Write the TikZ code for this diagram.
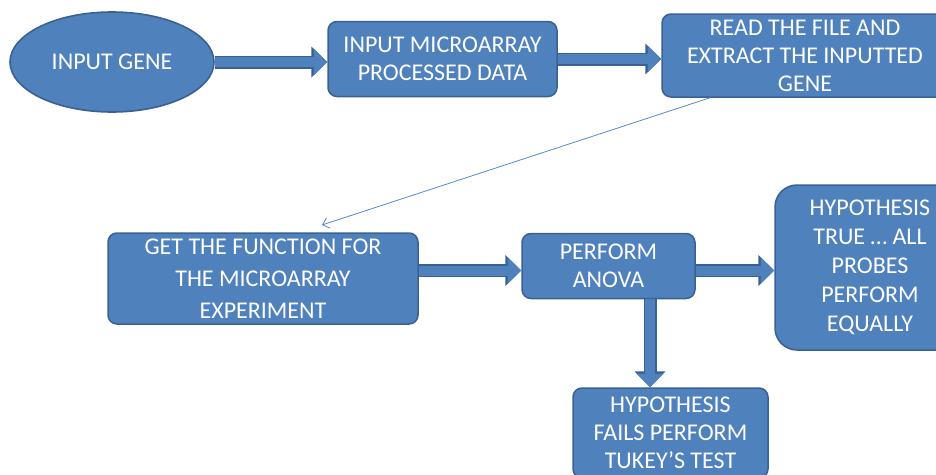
\documentclass[tikz,border=0pt]{standalone}
\usepackage{fontspec}
\setmainfont{Carlito}
\usetikzlibrary{shapes.geometric,arrows.meta}

\definecolor{boxfill}{HTML}{4F81BD}
\definecolor{boxedge}{HTML}{3A6193}
\definecolor{thinline}{HTML}{5A88C2}

\tikzset{
  stepbox/.style={draw=boxedge, fill=boxfill, line width=1.5pt, rounded corners=9pt,
    text=white, align=center, inner sep=0pt,
    font=\fontsize{24}{28}\selectfont},
  oval/.style={ellipse, draw=boxedge, fill=boxfill, line width=1.6pt, text=white,
    inner sep=0pt, font=\fontsize{24}{28}\selectfont},
  thinarrow/.style={draw=thinline, line width=0.8pt, -{Straight Barb[length=6pt,width=11pt]}}
}

% thick block arrow with a darker outline
\newcommand\fatarrow[2]{%
  \draw[boxedge, line width=13pt, -{Triangle[width=30pt,length=16pt]}] #1 -- #2;
  \draw[boxfill, line width=10pt, -{Triangle[width=26pt,length=13.5pt]}] #1 -- #2;
}

\begin{document}
\begin{tikzpicture}[x=1pt, y=-1pt]
  \useasboundingbox (0,0) rectangle (936,474);
  \clip (0,0) rectangle (936,474);
  \fill[white] (0,0) rectangle (936,474);

  % top row
  \node[oval, minimum width=204pt, minimum height=100pt] (gene) at (112,62) {INPUT GENE};
  \node[stepbox, minimum width=229pt, minimum height=75pt] (proc) at (442.5,59)
    {INPUT MICROARRAY\\PROCESSED DATA};
  \node[stepbox, minimum width=286pt, minimum height=83pt] (read) at (805,55.5)
    {READ THE FILE AND\\EXTRACT THE INPUTTED\\GENE};

  % second row
  \node[stepbox, minimum width=310pt, minimum height=91pt,
        font=\fontsize{24}{32}\selectfont] (func) at (263,278.5)
    {GET THE FUNCTION FOR\\THE MICROARRAY\\EXPERIMENT};
  \node[stepbox, minimum width=173pt, minimum height=65pt] (anova) at (608.5,266)
    {PERFORM\\ANOVA};
  \node[stepbox, rounded corners=22pt, minimum width=190pt, minimum height=165pt,
        font=\fontsize{24}{29}\selectfont] (true) at (870,267.5)
    {HYPOTHESIS\\TRUE \dots\ ALL\\PROBES\\PERFORM\\EQUALLY};

  % bottom
  \node[stepbox, minimum width=195pt, minimum height=90pt] (fail) at (670.5,433)
    {HYPOTHESIS\\FAILS PERFORM\\TUKEY’S TEST};

  % connectors
  \coordinate (midrow) at (0,270.5);
  \coordinate (downx) at (650,0);
  \coordinate (linkstart) at (710,0);
  \coordinate (linkend) at (322,225);

  \fatarrow{(gene.east)}{(proc.west |- gene.east)}
  \fatarrow{(proc.east)}{(read.west |- proc.east)}
  \fatarrow{(func.east |- midrow)}{(anova.west |- midrow)}
  \fatarrow{(anova.east |- midrow)}{(true.west |- midrow)}
  \fatarrow{(downx |- anova.south)}{(downx |- fail.north)}

  \draw[thinarrow] (linkstart |- read.south) -- (linkend);
\end{tikzpicture}
\end{document}
